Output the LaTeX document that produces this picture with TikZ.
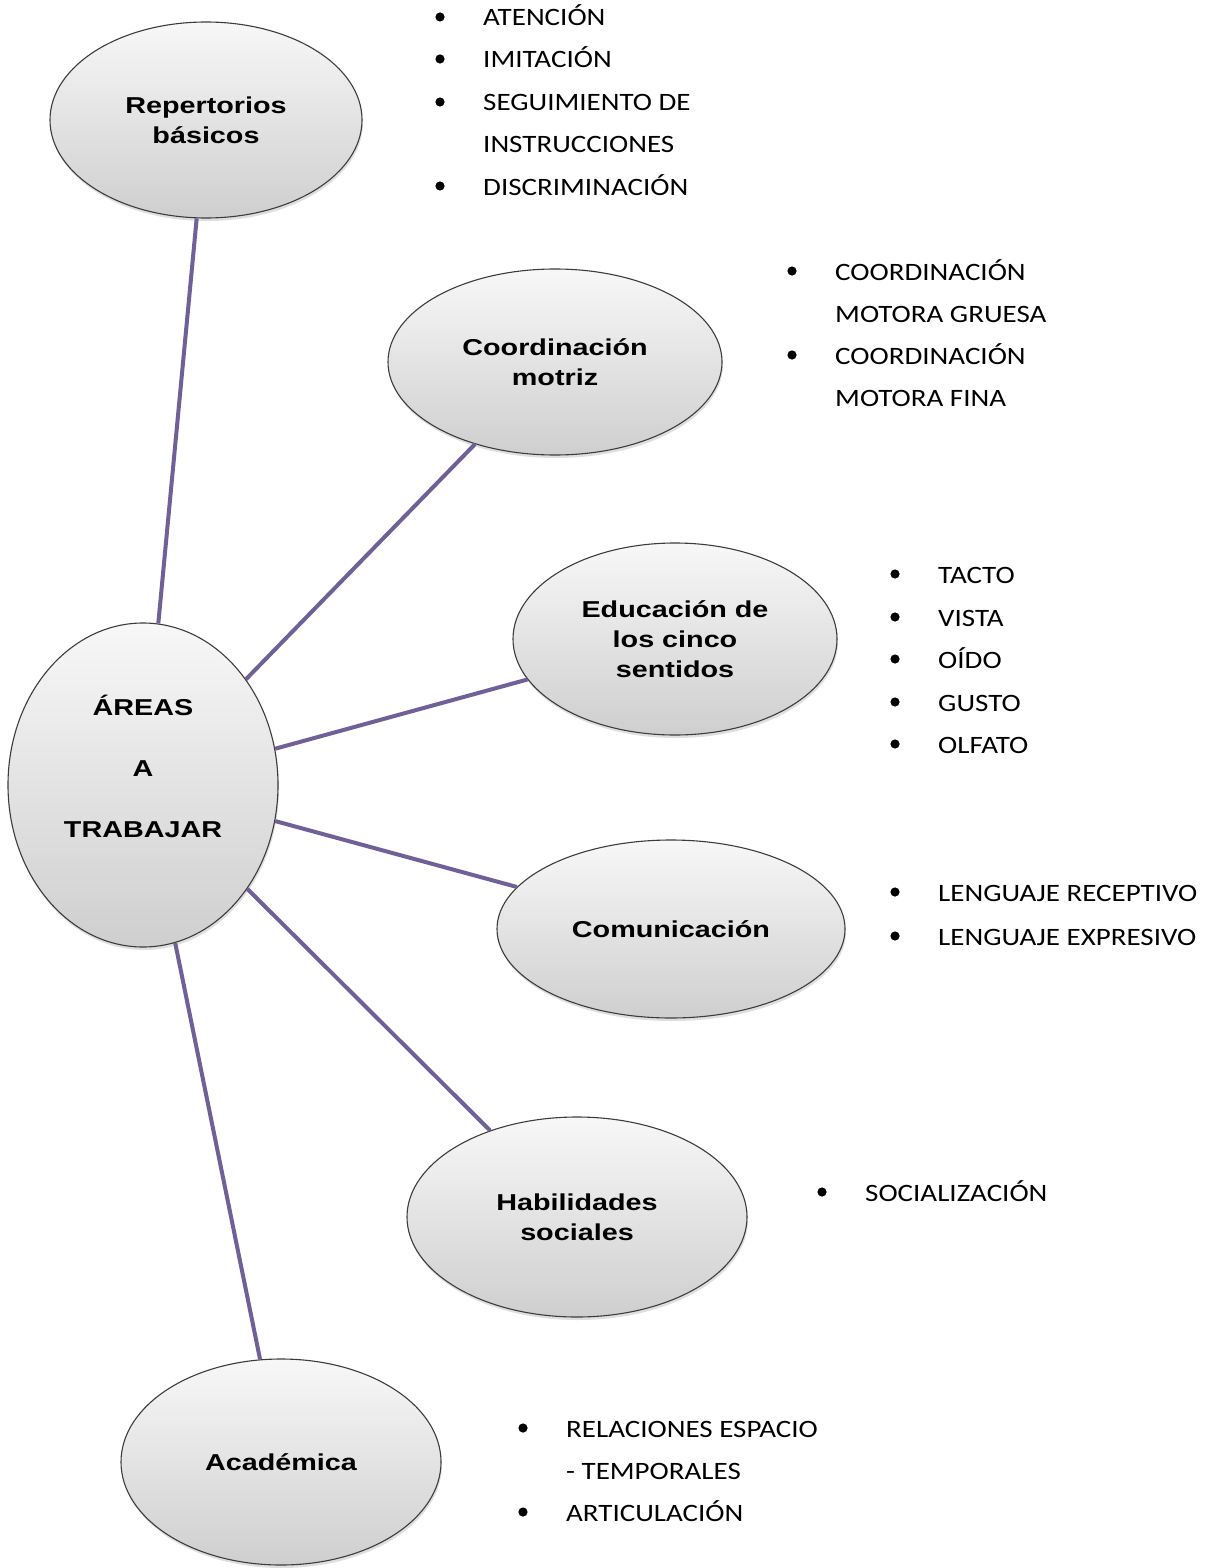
\documentclass[tikz,border=0pt]{standalone}
\usepackage{fontspec}
\usetikzlibrary{shapes.geometric,shadows}
\newfontfamily\ellfont[FakeStretch=1.25]{Liberation Sans}
\newfontfamily\itemfont[FakeStretch=1.16]{Carlito}
\definecolor{conncol}{RGB}{112,96,152}
\definecolor{ellborder}{RGB}{60,60,60}
\tikzset{
  area/.style={ellipse, draw=ellborder, line width=1.1pt, inner sep=0pt,
    top color=gray!6, bottom color=gray!38, align=center,
    drop shadow={opacity=0.25, shadow xshift=1pt, shadow yshift=-3pt},
    font=\ellfont\bfseries\fontsize{23}{30}\selectfont},
  areatext/.style={align=center, inner sep=0pt, font=\ellfont\bfseries\fontsize{23}{61}\selectfont},
  conn/.style={draw=conncol, line width=4pt},
  itemtext/.style={anchor=base west, inner sep=0pt, font=\itemfont\fontsize{25}{30}\selectfont},
  bul/.style={fill=black}
}
\begin{document}
\begin{tikzpicture}[x=1pt,y=-1pt]
\useasboundingbox[fill=white] (0,0) rectangle (1213,1568);

% ellipses
\node[area, minimum width=270pt, minimum height=324pt] (c) at (143,785) {};
\node[areatext] (ctext) at (143,766) {ÁREAS\\A\\TRABAJAR};
\node[area, minimum width=312pt, minimum height=196pt] (rep) at (206,120) {Repertorios\\básicos};
\node[area, minimum width=334pt, minimum height=186pt] (coo) at (555,362) {Coordinación\\motriz};
\node[area, minimum width=324pt, minimum height=192pt] (edu) at (675,639) {Educación de\\los cinco\\sentidos};
\node[area, minimum width=348pt, minimum height=178pt] (com) at (671,929) {Comunicación};
\node[area, minimum width=340pt, minimum height=200pt] (hab) at (577,1217) {Habilidades\\sociales};
\node[area, minimum width=320pt, minimum height=206pt] (aca) at (281,1462) {Académica};

% connectors
\draw[conn] (c) -- (rep);
\draw[conn] (c) -- (coo);
\draw[conn] (c) -- (edu);
\draw[conn] (c) -- (com);
\draw[conn] (c) -- (hab);
\draw[conn] (c) -- (aca);

% group 1
\node[itemtext] (r1) at (483,26) {ATENCIÓN};
\node[itemtext] (r2) at (483,68) {IMITACIÓN};
\node[itemtext] (r3) at (483,111) {SEGUIMIENTO DE};
\node[itemtext] (r4) at (483,153) {INSTRUCCIONES};
\node[itemtext] (r5) at (483,195) {DISCRIMINACIÓN};
% group 2
\node[itemtext] (m1) at (835,280) {COORDINACIÓN};
\node[itemtext] (m2) at (835,322) {MOTORA GRUESA};
\node[itemtext] (m3) at (835,364) {COORDINACIÓN};
\node[itemtext] (m4) at (835,406) {MOTORA FINA};
% group 3
\node[itemtext] (s1) at (938,583) {TACTO};
\node[itemtext] (s2) at (938,626) {VISTA};
\node[itemtext] (s3) at (938,668) {OÍDO};
\node[itemtext] (s4) at (938,711) {GUSTO};
\node[itemtext] (s5) at (938,753) {OLFATO};
% group 4
\node[itemtext] (l1) at (938,901) {LENGUAJE RECEPTIVO};
\node[itemtext] (l2) at (938,945) {LENGUAJE EXPRESIVO};
% group 5
\node[itemtext] (h1) at (865,1201) {SOCIALIZACIÓN};
% group 6
\node[itemtext] (a1) at (566,1437) {RELACIONES ESPACIO};
\node[itemtext] (a2) at (566,1479) {- TEMPORALES};
\node[itemtext] (a3) at (566,1521) {ARTICULACIÓN};

% bullets
\foreach \n in {r1,r2,r3,r5,m1,m3,s1,s2,s3,s4,s5,l1,l2,h1,a1,a3}
  \fill[bul] ([xshift=-43pt,yshift=9pt]\n.base west) circle (4.6pt);
\end{tikzpicture}
\end{document}
